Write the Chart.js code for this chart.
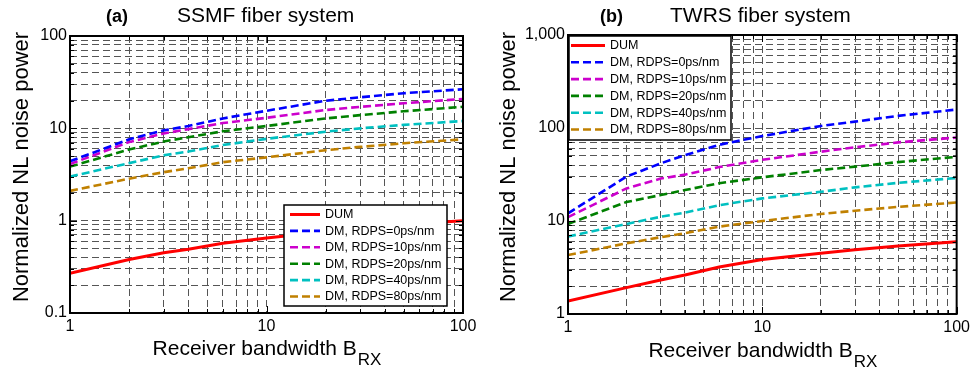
<!DOCTYPE html>
<html lang="en">
<head>
<meta charset="UTF-8">
<title>Normalized NL noise power vs receiver bandwidth</title>
<script src="https://cdn.jsdelivr.net/npm/chart.js"></script>
<style>
  body { margin: 0; background: #fff; }
  .panel { position: absolute; top: 0; width: 487px; height: 371px; }
  #panelA { left: 0; }
  #panelB { left: 487px; }
</style>
</head>
<body>
<div class="panel" id="panelA"><canvas id="ssmfChart" width="487" height="371"></canvas></div>
<div class="panel" id="panelB"><canvas id="twrsChart" width="487" height="371"></canvas></div>

<script>
// receiver bandwidth samples (x axis)
const bandwidth = [1, 2, 3, 4, 6, 10, 20, 30, 50, 100];

const seriesLabels = ['DUM', 'DM, RDPS=0ps/nm', 'DM, RDPS=10ps/nm', 'DM, RDPS=20ps/nm', 'DM, RDPS=40ps/nm', 'DM, RDPS=80ps/nm'];

// (a) SSMF fiber system
const ssmfDum   = [0.27, 0.38, 0.45, 0.49, 0.57, 0.65, 0.76, 0.83, 0.91, 1.0];
const ssmfRdps0 = [4.4, 7.6, 9.5, 10.6, 12.8, 15.5, 19.9, 21.7, 24.0, 26.5];
const ssmfRdps10 = [4.1, 7.1, 8.8, 9.8, 11.4, 13.0, 15.8, 17.1, 18.7, 20.8];
const ssmfRdps20 = [3.85, 5.9, 7.2, 8.0, 9.3, 10.6, 12.8, 13.9, 15.3, 17.1];
const ssmfRdps40 = [3.0, 4.2, 5.1, 5.6, 6.6, 7.7, 9.2, 10.0, 10.9, 12.0];
const ssmfRdps80 = [2.1, 2.85, 3.35, 3.7, 4.3, 4.85, 5.8, 6.3, 6.9, 7.6];

// (b) TWRS fiber system
const twrsDum   = [1.38, 1.92, 2.32, 2.63, 3.2, 3.85, 4.5, 4.9, 5.4, 6.0];
const twrsRdps0 = [12.1, 30, 41.7, 51, 66, 82, 105, 117, 135, 158];
const twrsRdps10 = [11.0, 22.4, 28.6, 31.5, 38, 45.5, 55.6, 62, 70, 79];
const twrsRdps20 = [9.3, 16, 19, 21.5, 25.5, 29.5, 35.3, 38.4, 43, 49];
const twrsRdps40 = [6.8, 9.3, 11.1, 12.3, 14.8, 17.5, 20.6, 23.0, 25.7, 29];
const twrsRdps80 = [4.3, 5.75, 6.7, 7.4, 8.7, 10, 11.9, 12.9, 14.2, 15.8];

// tick positions and labels
const xTickValues = [1, 2, 3, 4, 5, 6, 7, 8, 9, 10, 20, 30, 40, 50, 60, 70, 80, 90, 100];
const xTickLabels = { 1: '1', 10: '10', 100: '100' };
const ssmfYTickValues = [0.1, 0.2, 0.3, 0.4, 0.5, 0.6, 0.7, 0.8, 0.9, 1, 2, 3, 4, 5, 6, 7, 8, 9, 10, 20, 30, 40, 50, 60, 70, 80, 90, 100];
const ssmfYTickLabels = { 0.1: '0.1', 1: '1', 10: '10', 100: '100' };
const twrsYTickValues = [1, 2, 3, 4, 5, 6, 7, 8, 9, 10, 20, 30, 40, 50, 60, 70, 80, 90, 100, 200, 300, 400, 500, 600, 700, 800, 900, 1000];
const twrsYTickLabels = { 1: '1', 10: '10', 100: '100', 1000: '1,000' };

const colors = ['#ff0000', '#0000ff', '#cc00cc', '#008000', '#00c0c0', '#c08000'];
const FONT = "'Liberation Sans', Arial, sans-serif";

function buildDatasets(seriesList) {
    return seriesList.map((vals, i) => ({
        label: seriesLabels[i],
        data: vals.map((v, j) => ({ x: bandwidth[j], y: v })),
        borderColor: colors[i],
        borderWidth: i === 0 ? 3 : 2.6,
        borderDash: i === 0 ? [] : [8, 4],
        pointRadius: 0,
        tension: 0,
        fill: false
    }));
}

// frame, inside ticks, boxed legend, heading and axis titles
const decorPlugin = {
    id: 'decor',
    afterDraw(chart, args, o) {
        const { ctx, chartArea: a, scales } = chart;
        ctx.save();

        // small inside tick marks on all four sides
        ctx.strokeStyle = '#000';
        ctx.lineWidth = 1;
        ctx.beginPath();
        scales.x.ticks.forEach(t => {
            const px = Math.round(scales.x.getPixelForValue(t.value)) + 0.5;
            const len = o.xLabels[t.value] ? 7 : 4;
            ctx.moveTo(px, a.bottom); ctx.lineTo(px, a.bottom - len);
            ctx.moveTo(px, a.top); ctx.lineTo(px, a.top + len);
        });
        scales.y.ticks.forEach(t => {
            const py = Math.round(scales.y.getPixelForValue(t.value)) + 0.5;
            const len = o.yLabels[t.value] ? 7 : 4;
            ctx.moveTo(a.left, py); ctx.lineTo(a.left + len, py);
            ctx.moveTo(a.right, py); ctx.lineTo(a.right - len, py);
        });
        ctx.stroke();

        // legend box
        const L = o.legend;
        ctx.fillStyle = '#fff';
        ctx.fillRect(L.x, L.y, L.w, L.h);
        ctx.lineWidth = 1.5;
        ctx.strokeStyle = '#000';
        ctx.strokeRect(L.x, L.y, L.w, L.h);
        ctx.font = '12.5px ' + FONT;
        ctx.textBaseline = 'middle';
        ctx.textAlign = 'left';
        chart.data.datasets.forEach((ds, i) => {
            const cy = L.firstRow + i * L.rowStep;
            ctx.beginPath();
            ctx.setLineDash(ds.borderDash);
            ctx.strokeStyle = ds.borderColor;
            ctx.lineWidth = ds.borderWidth;
            ctx.moveTo(L.sampleX0, cy);
            ctx.lineTo(L.sampleX1, cy);
            ctx.stroke();
            ctx.setLineDash([]);
            ctx.fillStyle = '#000';
            ctx.fillText(ds.label, L.textX, cy + 0.5);
        });

        // frame
        ctx.lineWidth = 2;
        ctx.strokeStyle = '#000';
        ctx.strokeRect(a.left, a.top, a.right - a.left, a.bottom - a.top);

        // heading
        ctx.fillStyle = '#000';
        ctx.textBaseline = 'alphabetic';
        ctx.font = 'bold 18px ' + FONT;
        ctx.fillText(o.tag, o.tagX, 22);
        ctx.font = '21px ' + FONT;
        ctx.fillText(o.heading, o.headingX, 22);

        // x axis title with subscript
        const main = 'Receiver bandwidth B';
        ctx.font = '21px ' + FONT;
        const wMain = ctx.measureText(main).width;
        ctx.font = '17px ' + FONT;
        const wSub = ctx.measureText('RX').width;
        const x0 = (a.left + a.right) / 2 - (wMain + wSub) / 2;
        ctx.font = '21px ' + FONT;
        ctx.fillText(main, x0, o.xTitleBase);
        ctx.font = '17px ' + FONT;
        ctx.fillText('RX', x0 + wMain + 1, o.xTitleBase + 10);

        // y axis title
        ctx.translate(o.yTitleX, 167);
        ctx.rotate(-Math.PI / 2);
        ctx.font = '22px ' + FONT;
        ctx.textAlign = 'center';
        ctx.textBaseline = 'middle';
        ctx.fillText('Normalized NL noise power', 0, 0);
        ctx.restore();
    }
};

function makeChart(canvasId, seriesList, yMin, yMax, yTickValues, yTickLabels, layout, decor) {
    const tickFont = { family: FONT, size: 16 };
    return new Chart(document.getElementById(canvasId), {
        type: 'line',
        data: { datasets: buildDatasets(seriesList) },
        options: {
            responsive: false,
            animation: false,
            devicePixelRatio: 1,
            layout: { padding: layout.padding },
            scales: {
                x: {
                    type: 'logarithmic',
                    min: 1, max: 100,
                    afterBuildTicks: s => { s.ticks = xTickValues.map(v => ({ value: v })); },
                    afterFit: s => { s.height = layout.xHeight; },
                    ticks: {
                        autoSkip: false, maxRotation: 0, padding: 4, color: '#000', font: tickFont,
                        callback: v => xTickLabels[v] || ''
                    },
                    grid: { color: '#555', lineWidth: 1, drawTicks: false },
                    border: { display: false, dash: [7, 4] }
                },
                y: {
                    type: 'logarithmic',
                    min: yMin, max: yMax,
                    afterBuildTicks: s => { s.ticks = yTickValues.map(v => ({ value: v })); },
                    afterFit: s => { s.width = layout.yWidth; },
                    ticks: {
                        autoSkip: false, padding: 3, color: '#000', font: tickFont,
                        callback: v => yTickLabels[v] || ''
                    },
                    grid: { color: '#555', lineWidth: 1, drawTicks: false },
                    border: { display: false, dash: [7, 4] }
                }
            },
            plugins: {
                legend: { display: false },
                tooltip: { enabled: false },
                decor: Object.assign({ xLabels: xTickLabels, yLabels: yTickLabels }, decor)
            }
        },
        plugins: [decorPlugin]
    });
}

makeChart('ssmfChart',
    [ssmfDum, ssmfRdps0, ssmfRdps10, ssmfRdps20, ssmfRdps40, ssmfRdps80],
    0.1, 100, ssmfYTickValues, ssmfYTickLabels,
    { padding: { left: 0, right: 24, top: 36, bottom: 0 }, yWidth: 70, xHeight: 58 },
    {
        tag: '(a)', tagX: 106, heading: 'SSMF fiber system', headingX: 177,
        xTitleBase: 355, yTitleX: 22,
        legend: { x: 284, y: 205, w: 163, h: 101, firstRow: 214.5, rowStep: 16.4, sampleX0: 290, sampleX1: 320, textX: 325 }
    });

makeChart('twrsChart',
    [twrsDum, twrsRdps0, twrsRdps10, twrsRdps20, twrsRdps40, twrsRdps80],
    1, 1000, twrsYTickValues, twrsYTickLabels,
    { padding: { left: 0, right: 16, top: 35, bottom: 0 }, yWidth: 81, xHeight: 57 },
    {
        tag: '(b)', tagX: 113, heading: 'TWRS fiber system', headingX: 183,
        xTitleBase: 357, yTitleX: 22,
        legend: { x: 82, y: 36, w: 162, h: 104, firstRow: 45.5, rowStep: 16.8, sampleX0: 84, sampleX1: 118, textX: 123 }
    });
</script>
</body>
</html>
